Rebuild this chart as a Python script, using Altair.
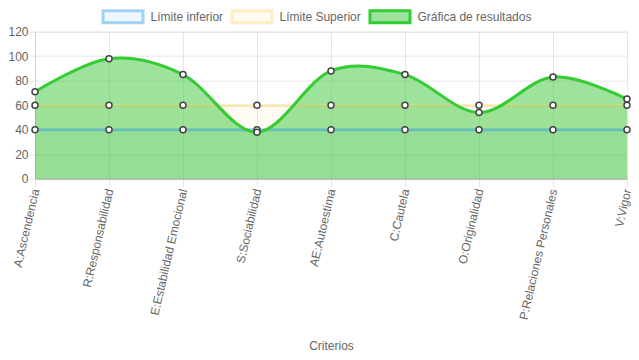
import altair as alt
import pandas as pd

categories = ["A:Ascendencia", "R:Responsabilidad", "E:Estabilidad Emocional",
              "S:Sociabilidad", "AE:Autoestima", "C:Cautela", "O:Originalidad",
              "P:Relaciones Personales", "V:Vigor"]
limite_inferior = [40, 40, 40, 40, 40, 40, 40, 40, 40]
limite_superior = [60, 60, 60, 60, 60, 60, 60, 60, 60]
resultados = [71, 98, 85, 38, 88, 85, 54, 83, 65]
series_names = ["Límite inferior", "Límite Superior", "Gráfica de resultados"]
y_ticks = [0, 20, 40, 60, 80, 100, 120]

fill_colors = ["rgba(54,162,235,0.08)", "rgba(255,205,86,0.08)", "rgba(60,200,60,0.5)"]
stroke_colors = ["rgba(54,162,235,0.45)", "rgba(255,205,86,0.35)", "rgb(51,204,51)"]

rows = []
for name, vals in zip(series_names, [limite_inferior, limite_superior, resultados]):
    for c, v in zip(categories, vals):
        rows.append({"serie": name, "criterio": c, "valor": v})
df = pd.DataFrame(rows)

FONT = "Liberation Sans"

x_enc = alt.X("criterio:N", sort=categories, title="Criterios",
              scale=alt.Scale(type="point", padding=0),
              axis=alt.Axis(labelAngle=283, labelFontSize=12, labelColor="#666",
                            titleFontSize=12, titleColor="#666", titleFontWeight="normal",
                            titlePadding=20, grid=True, gridColor="#e6e6e6",
                            tickColor="#e6e6e6", tickSize=8, labelPadding=2,
                            domainColor="#aaaaaa", labelFont=FONT, titleFont=FONT))
y_enc = alt.Y("valor:Q", stack=None, title=None,
              scale=alt.Scale(domain=[0, 120], nice=False),
              axis=alt.Axis(values=y_ticks, labelFontSize=12, labelColor="#666",
                            grid=True, gridColor="#e6e6e6", tickColor="#e6e6e6",
                            tickSize=6, labelPadding=1, domainColor="#d0d0d0",
                            labelFont=FONT))

legend = alt.Legend(title=None, orient="none", direction="horizontal",
                    legendX=76.5, legendY=-26.7,
                    symbolType="M-2,-0.6H2V0.6H-2Z", symbolSize=400,
                    symbolStrokeWidth=3, labelOffset=16, columnPadding=2,
                    labelFontSize=12, labelColor="#666", labelFont=FONT)

fill_scale = alt.Scale(domain=series_names, range=fill_colors)
stroke_scale = alt.Scale(domain=series_names, range=stroke_colors)

base = alt.Chart(df)

areas = base.mark_area(interpolate="cardinal", tension=0).encode(
    x=x_enc, y=y_enc,
    fill=alt.Fill("serie:N", scale=fill_scale, legend=legend, sort=series_names),
    order=alt.Order("serie:N"),
)

lines = base.mark_line(interpolate="cardinal", tension=0, strokeWidth=3).encode(
    x=x_enc, y=y_enc,
    stroke=alt.Stroke("serie:N", scale=stroke_scale, legend=legend, sort=series_names),
)

points = base.mark_point(filled=False, fill="white", stroke="#444", strokeWidth=1.5,
                         size=36, opacity=1, shape="circle").encode(
    x=x_enc, y=y_enc, detail="serie:N"
)

chart = alt.layer(areas, lines, points).properties(
    width=592, height=147,
    autosize=alt.AutoSizeParams(type="none"),
    padding={"left": 27, "top": 23.7, "right": 4, "bottom": 173},
).configure_view(stroke=None).configure(font=FONT)

chart.save("out.html", embed_options={"renderer": "svg", "actions": False})
